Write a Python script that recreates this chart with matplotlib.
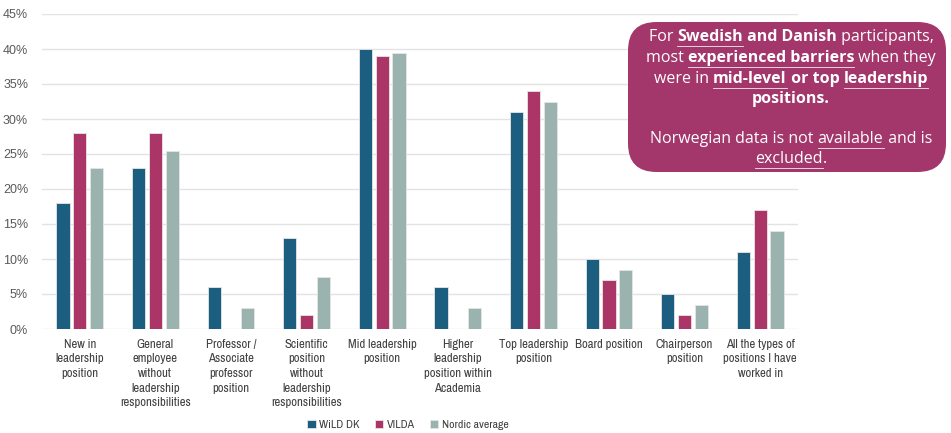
import matplotlib
matplotlib.use("Agg")
import matplotlib.pyplot as plt
import numpy as np
from matplotlib.patches import FancyBboxPatch

categories = ["New in\nleadership\nposition",
              "General\nemployee\nwithout\nleadership\nresponsibilities",
              "Professor /\nAssociate\nprofessor\nposition",
              "Scientific\nposition\nwithout\nleadership\nresponsibilities",
              "Mid leadership\nposition",
              "Higher\nleadership\nposition within\nAcademia",
              "Top leadership\nposition",
              "Board position",
              "Chairperson\nposition",
              "All the types of\npositions I have\nworked in"]
wild_dk = [18, 23, 6, 13, 40, 6, 31, 10, 5, 11]
vilda = [28, 28, 0, 2, 39, 0, 34, 7, 2, 17]
nordic = [23, 25.5, 3, 7.5, 39.5, 3, 32.5, 8.5, 3.5, 14]
series_names = ["WiLD DK", "VILDA", "Nordic average"]
colors = ["#1b5e80", "#ab3566", "#9bb3af"]

plt.rcParams['font.family'] = ['Archivo Narrow', 'Liberation Sans', 'DejaVu Sans']

fig = plt.figure(figsize=(9.51, 4.33), dpi=100)
ax = fig.add_axes([42/951, 1-329/433, (798-42)/951, (329-14)/433])

x = np.arange(len(categories))
w = 0.175
step = 0.222
for i, (vals, name, c) in enumerate(zip([wild_dk, vilda, nordic], series_names, colors)):
    ax.bar(x + (i-1)*step, vals, width=w, color=c, edgecolor="#e6e6e6", linewidth=0.6, label=name, zorder=3)

ax.set_xlim(-0.5, len(categories)-0.5)
ax.set_ylim(0, 45)
ax.set_yticks(range(0, 46, 5))
ax.set_yticklabels([f"{v}%" for v in range(0, 46, 5)], fontsize=9, color="#595959",
                   family=["Liberation Sans"])
ax.set_xticks(x)
ax.set_xticklabels(categories, fontsize=9.2, color="#404040", linespacing=1.4, va="top")
ax.tick_params(length=0, pad=7)
ax.tick_params(axis='y', pad=10)
ax.grid(axis='y', color="#e3e3e3", linewidth=1, zorder=0)
for s in ax.spines.values():
    s.set_visible(False)

ax.legend(loc="center", bbox_to_anchor=(408/951, 1-425/433), bbox_transform=fig.transFigure,
          ncol=3, frameon=False, fontsize=8.5, handlelength=0.7, handleheight=0.7,
          handletextpad=0.3, columnspacing=1.3, labelcolor="#404040")

# annotation box
box = FancyBboxPatch((628/951, 1-172/433), (946-628)/951, (172-22)/433,
                     boxstyle="round,pad=0,rounding_size=0.03", transform=fig.transFigure,
                     facecolor="#a3366a", edgecolor="none", zorder=5, mutation_aspect=951/433)
fig.patches.append(box)

lines = [
    [("For ", False, False), ("Swedish", True, True), (" and Danish", True, False), (" participants,", False, False)],
    [("most ", False, False), ("experienced barriers", True, True), (" when they", False, False)],
    [("were in ", False, False), ("mid-level", True, True), (" or top ", True, False), ("leadership", True, True)],
    [("positions.", True, False)],
    [],
    [("Norwegian data is not ", False, False), ("available", False, True), (" and is", False, False)],
    [("excluded", False, True), (".", False, False)],
]
ys = [37, 58, 79, 99, 118, 139, 159]
fig.canvas.draw()
renderer = fig.canvas.get_renderer()
cx = 791
fs = 11.5
for segs, yy in zip(lines, ys):
    if not segs:
        continue
    widths = []
    for t, b, u in segs:
        tt = fig.text(0, 0, t, fontsize=fs, fontweight="bold" if b else "normal", family=["Open Sans"])
        widths.append(tt.get_window_extent(renderer).width)
        tt.remove()
    total = sum(widths)
    xpos = cx - total/2
    for (t, b, u), wd in zip(segs, widths):
        fig.text(xpos/951, 1-yy/433, t, fontsize=fs, fontweight="bold" if b else "normal",
                 family=["Open Sans"], color="white", va="center", ha="left", zorder=6)
        if u:
            lead = len(t) - len(t.lstrip())
            fig.add_artist(plt.Line2D([xpos/951, (xpos + wd)/951], [1-(yy+9)/433]*2,
                                      color="white", linewidth=0.6, alpha=0.9, zorder=6))
        xpos += wd

fig.savefig("out.png", dpi=100)
